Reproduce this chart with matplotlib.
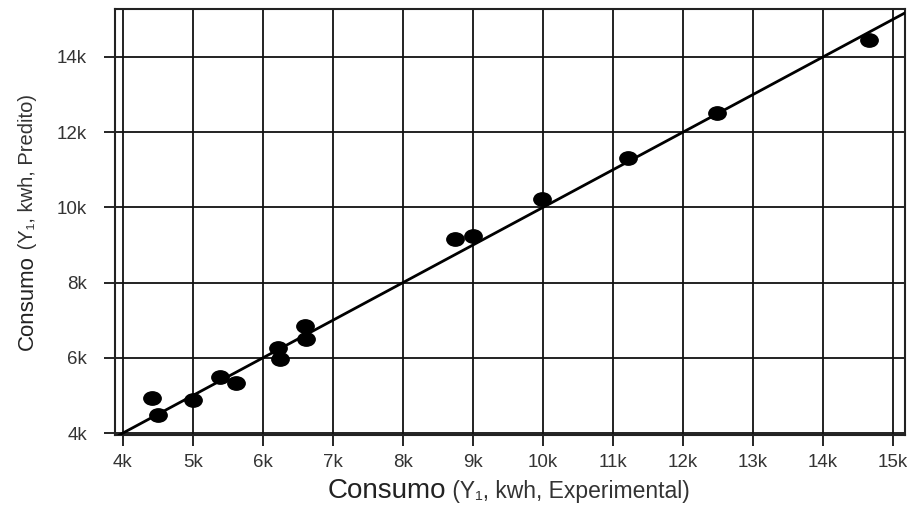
import numpy as np
import matplotlib
matplotlib.use("Agg")
import matplotlib.pyplot as plt
from matplotlib.path import Path
from matplotlib.transforms import Affine2D

plt.rcParams['font.family'] = ['Liberation Sans', 'DejaVu Sans']

# experimental vs predicted consumption (kWh)
experimental = [4410, 4500, 5000, 5390, 5610, 6220, 6240, 6600, 6610,
                8740, 9000, 9990, 11210, 12480, 14650]
predicted = [4940, 4480, 4880, 5500, 5340, 6250, 5960, 6850, 6490,
             9160, 9240, 10220, 11320, 12500, 14450]

x_ticks = [4000, 5000, 6000, 7000, 8000, 9000, 10000, 11000, 12000, 13000, 14000, 15000]
x_labels = ['4k', '5k', '6k', '7k', '8k', '9k', '10k', '11k', '12k', '13k', '14k', '15k']
y_ticks = [4000, 6000, 8000, 10000, 12000, 14000]
y_labels = ['4k', '6k', '8k', '10k', '12k', '14k']

fig = plt.figure(figsize=(9.07, 5.05), dpi=100)
ax = fig.add_axes([0.1268, 0.1386, 0.871, 0.8426])

# elliptic marker, wider than tall
ell = Path.unit_circle().transformed(Affine2D().scale(1.3, 1.0))

ax.axline((0, 0), slope=1, color='black', lw=2, zorder=3)
ax.plot(experimental, predicted, linestyle='none', marker=ell, markersize=12.5,
        color='black', zorder=4)

ax.set_xlim(3886, 15170)
ax.set_ylim(3947, 15260)
ax.set_xticks(x_ticks)
ax.set_xticklabels(x_labels)
ax.set_yticks(y_ticks)
ax.set_yticklabels(y_labels)
ax.grid(True, color='#111111', lw=1.3)
ax.set_axisbelow(True)
for s in ax.spines.values():
    s.set_linewidth(1.5)
    s.set_color('#222222')
ax.tick_params(direction='out', length=8, width=1.2, labelsize=13.5, colors='black')
ax.tick_params(axis='x', pad=6)
ax.tick_params(axis='y', pad=12)
for lab in ax.get_xticklabels() + ax.get_yticklabels():
    lab.set_color('#333333')

# axis titles with a smaller parenthetical part
fig.canvas.draw()
r = fig.canvas.get_renderer()
t1 = fig.text(0, 0.014, 'Consumo', fontsize=20, color='#222222', va='baseline')
t2 = fig.text(0, 0.014, ' (Y\u2081, kwh, Experimental)', fontsize=16.5, color='#333333',
              va='baseline')
w1 = t1.get_window_extent(r).width
w2 = t2.get_window_extent(r).width
cx = 509
t1.set_x((cx - (w1 + w2) / 2) / 907)
t2.set_x((cx - (w1 + w2) / 2 + w1) / 907)

u1 = fig.text(0.036, 0, 'Consumo', fontsize=16, color='#222222', rotation=90,
              ha='left', va='baseline', rotation_mode='anchor')
u2 = fig.text(0.036, 0, ' (Y\u2081, kwh, Predito)', fontsize=14.5, color='#333333',
              rotation=90, ha='left', va='baseline', rotation_mode='anchor')
h1 = u1.get_window_extent(r).height
h2 = u2.get_window_extent(r).height
cy = 505 - 222
u1.set_y((cy - (h1 + h2) / 2) / 505)
u2.set_y((cy - (h1 + h2) / 2 + h1) / 505)

fig.savefig('out.png', dpi=100)
